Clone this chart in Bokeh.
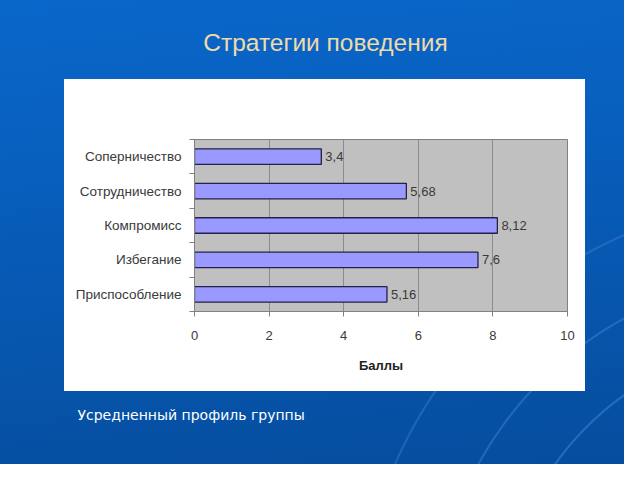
from bokeh.plotting import figure
from bokeh.models import Range1d, FixedTicker, Title, ColumnDataSource, LinearAxis
from bokeh.embed import file_html
from bokeh.resources import INLINE
from bokeh.core.properties import value

# ---- data ----
categories = ["Соперничество", "Сотрудничество", "Компромисс", "Избегание", "Приспособление"]
scores = [3.4, 5.68, 8.12, 7.6, 5.16]
x_ticks = [0, 2, 4, 6, 8, 10]
x_title = "Баллы"
chart_title = "Стратегии поведения"
caption = "Усредненный профиль группы"

n = len(categories)
ypos = [n - i - 0.5 for i in range(n)]
labels = [f"{v:g}".replace(".", ",") for v in scores]
src = ColumnDataSource(dict(y=ypos, score=scores, label=labels))

W, H = 624, 464
FL, FR, FT, FB = 194, 567, 139, 311          # frame edges in pixels
p = figure(width=W, height=H, output_backend="svg", toolbar_location=None,
           x_range=Range1d(0, 10), y_range=Range1d(0, n),
           min_border_left=FL, min_border_right=W - FR,
           min_border_top=FT, min_border_bottom=H - FB)
sx = (FR - FL) / 10.0   # pixels per x unit

# page background (decorative) and white chart panel via CSS
p.border_fill_alpha = 0
p.styles = {
    "background": (
        "linear-gradient(#ffffff, #ffffff) 64px 79px / 521px 312px no-repeat, "
        "radial-gradient(circle at 800px 640px, transparent 0 300px, rgba(90,150,225,0.40) 301px 302px, transparent 303px 365px, "
        "rgba(90,150,225,0.35) 366px 367px, transparent 368px 440px, rgba(90,150,225,0.3) 441px 442px, transparent 443px), "
        "linear-gradient(175deg, #0a67cb 0%, #075cb8 45%, #064d9e 100%)"
    )
}
p.background_fill_color = "#c0c0c0"
p.outline_line_color = "#808080"
p.outline_line_width = 1

# grid
p.ygrid.visible = False
p.xgrid.ticker = FixedTicker(ticks=x_ticks)
p.xgrid.grid_line_color = "#8c8c8c"
p.xgrid.grid_line_width = 1

# bars
p.hbar(y="y", right="score", left=0, height=0.45, source=src,
       fill_color="#9999ff", line_color="#22224a", line_width=1.3)
p.text(x="score", y="y", text="label", source=src, x_offset=4,
       text_baseline="middle", text_align="left",
       text_font=value("Liberation Sans"), text_font_size="13px", text_color="#3a3a3a")

# x axis
xa = p.xaxis[0]
xa.ticker = FixedTicker(ticks=x_ticks)
xa.axis_line_color = "#808080"
xa.major_tick_line_color = "#808080"
xa.major_tick_out = 5
xa.major_tick_in = 0
xa.minor_tick_out = 0
xa.minor_tick_in = 0
xa.major_label_standoff = 14
xa.major_label_text_font = "Liberation Sans"
xa.major_label_text_font_size = "13px"
xa.major_label_text_color = "#3a3a3a"
xa.axis_label = x_title
xa.axis_label_text_font = "Liberation Sans"
xa.axis_label_text_font_style = "bold"
xa.axis_label_text_font_size = "13px"
xa.axis_label_text_color = "#222222"
xa.axis_label_standoff = 15

# y axis: labels at category centres, ticks at category boundaries
ya = p.yaxis[0]
ya.ticker = FixedTicker(ticks=ypos, minor_ticks=list(range(n + 1)))
ya.major_label_overrides = {y: c for y, c in zip(ypos, categories)}
ya.axis_line_color = "#808080"
ya.major_tick_out = 0
ya.major_tick_in = 0
ya.minor_tick_out = 5
ya.minor_tick_in = 0
ya.minor_tick_line_color = "#808080"
ya.major_label_standoff = 8
ya.major_label_text_font = "Liberation Sans"
ya.major_label_text_font_size = "13.5px"
ya.major_label_text_color = "#3a3a3a"

# built-in title unused
p.title.text = ""
p.title.visible = False

# chart title: the single tick label of an otherwise invisible axis above the frame,
# centred at x = 325 px and lifted to a baseline of y = 55 px by the label standoff
title_x = round((325 - FL) / sx, 3)
tax = LinearAxis(ticker=FixedTicker(ticks=[title_x]),
                 major_label_overrides={title_x: chart_title},
                 axis_line_color=None, major_tick_line_color=None,
                 major_tick_out=0, major_tick_in=0, minor_tick_out=0, minor_tick_in=0,
                 major_label_standoff=FT - 55,
                 major_label_text_font="Liberation Sans",
                 major_label_text_font_size="24.5px",
                 major_label_text_color="#eedba8")
p.add_layout(tax, "above")

# caption below the x axis
p.add_layout(Title(text=caption, align="left", vertical_align="bottom",
                   offset=77 - FL, standoff=59,
                   text_font="DejaVu Sans", text_font_style="normal",
                   text_font_size="14px", text_color="#ffffff"), "below")

open("out.html", "w").write(file_html(p, INLINE))
